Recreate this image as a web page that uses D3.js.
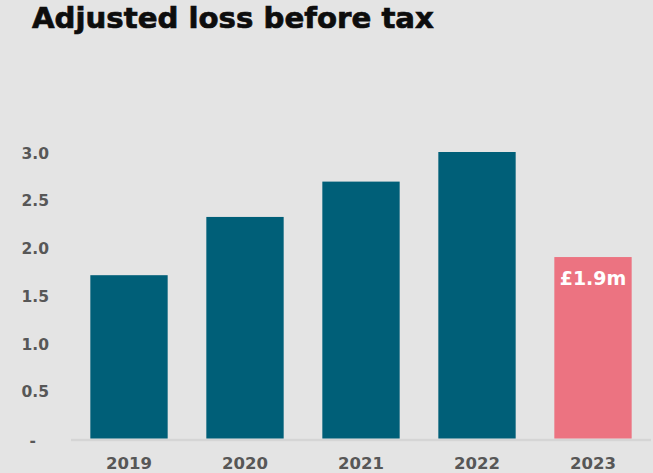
<!DOCTYPE html>
<html>
<head>
<meta charset="utf-8">
<script src="https://cdn.jsdelivr.net/npm/d3@7/dist/d3.min.js"></script>
<style>
  html, body { margin: 0; padding: 0; background: #e4e4e4; overflow: hidden; }
  svg { display: block; }
</style>
</head>
<body>
<script>
// Adjusted loss before tax, £m
const years = ["2019", "2020", "2021", "2022", "2023"];
const losses = [1.71, 2.32, 2.69, 3.0, 1.9];
const highlightYear = "2023";
const highlightLabel = "£1.9m";
const yTicks = [0, 0.5, 1.0, 1.5, 2.0, 2.5, 3.0];

const W = 653, H = 473;
const FONT = "'DejaVu Sans', sans-serif";

const svg = d3.select("body").append("svg")
  .attr("width", W).attr("height", H);

svg.append("rect").attr("width", W).attr("height", H).attr("fill", "#e4e4e4");

// Title, sized to span its line
const title = svg.append("text")
  .attr("x", 32).attr("y", 28)
  .attr("font-family", FONT).attr("font-weight", "bold")
  .attr("font-size", 28).attr("fill", "#0d0d0d")
  .attr("stroke", "#0d0d0d").attr("stroke-width", 0.7)
  .text("Adjusted loss before tax");
const tw = title.node().getComputedTextLength();
title.attr("font-size", 28 * 402 / tw);

const x = d3.scaleBand()
  .domain(years)
  .range([71, 651])
  .paddingInner(1 / 3)
  .paddingOuter(1 / 6);

const y = d3.scaleLinear()
  .domain([0, 3])
  .range([438.5, 152]);

// Baseline
svg.append("line")
  .attr("x1", 71).attr("x2", 651)
  .attr("y1", y(0) + 1.5).attr("y2", y(0) + 1.5)
  .attr("stroke", "#d5d5d5").attr("stroke-width", 2.5);

// Bars
const data = years.map((yr, i) => ({ year: yr, value: losses[i] }));
svg.append("g").selectAll("rect")
  .data(data)
  .join("rect")
  .attr("x", d => x(d.year))
  .attr("width", x.bandwidth())
  .attr("y", d => y(d.value))
  .attr("height", d => y(0) - y(d.value))
  .attr("fill", d => d.year === highlightYear ? "#ec7381" : "#005f78");

// Value label on highlighted bar
const hi = data.find(d => d.year === highlightYear);
svg.append("text")
  .attr("x", x(hi.year) + x.bandwidth() / 2)
  .attr("y", 285)
  .attr("text-anchor", "middle")
  .attr("font-family", FONT).attr("font-weight", "bold")
  .attr("font-size", 19).attr("fill", "#ffffff")
  .text(highlightLabel);

// Y axis
const yAxis = svg.append("g")
  .attr("transform", "translate(49,0)")
  .call(d3.axisLeft(y).tickValues(yTicks).tickSize(0).tickPadding(0)
    .tickFormat(d => d === 0 ? "-" : d3.format(".1f")(d)));
yAxis.select(".domain").remove();
yAxis.selectAll("text")
  .attr("font-family", FONT).attr("font-weight", "bold")
  .attr("font-size", 15.5).attr("fill", "#575757")
  .attr("dy", "0.4em");
yAxis.selectAll(".tick").filter(d => d === 0).select("text")
  .attr("x", -13).attr("dy", "0.45em");

// X axis
const xAxis = svg.append("g")
  .attr("transform", `translate(0,${y(0)})`)
  .call(d3.axisBottom(x).tickSize(0).tickPadding(0));
xAxis.select(".domain").remove();
xAxis.selectAll("text")
  .attr("font-family", FONT).attr("font-weight", "bold")
  .attr("font-size", 16.5).attr("fill", "#575757")
  .attr("dy", 0).attr("y", 30);
</script>
</body>
</html>
